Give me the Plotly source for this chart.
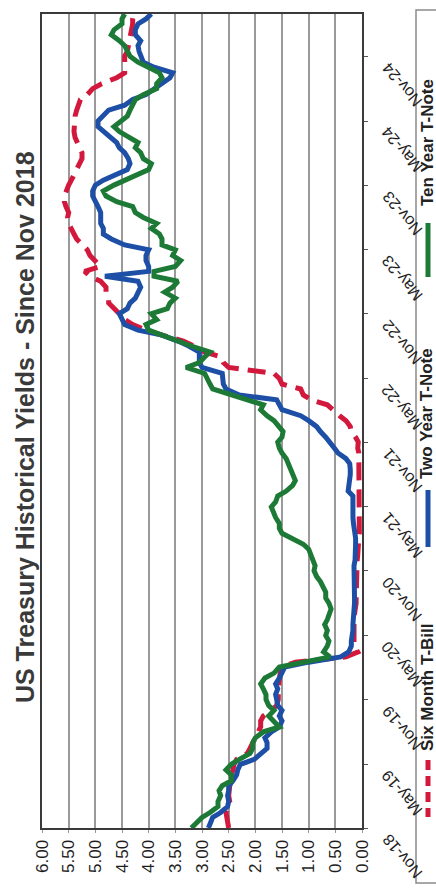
import pandas as pd
import plotly.graph_objects as go

# Observation dates: 1st and 15th of each month, Nov 2018 - Mar 2025
obs_dates = pd.date_range("2018-11-01", "2025-03-01", freq="SMS")

# Yields in percent, one value per observation date (rows = six months)
six_month = [
    2.50, 2.52, 2.55, 2.55, 2.50, 2.48, 2.50, 2.50, 2.48, 2.45, 2.45, 2.42,
    2.40, 2.35, 2.15, 2.10, 2.05, 2.00, 1.95, 1.90, 1.90, 1.85, 1.70, 1.60,
    1.57, 1.58, 1.57, 1.56, 1.55, 1.55, 1.52, 1.25, 0.30, 0.08, 0.15, 0.15,
    0.15, 0.17, 0.17, 0.15, 0.14, 0.12, 0.11, 0.11, 0.11, 0.11, 0.11, 0.10,
    0.10, 0.09, 0.09, 0.08, 0.08, 0.07, 0.06, 0.05, 0.05, 0.04, 0.04, 0.04,
    0.04, 0.05, 0.05, 0.05, 0.05, 0.05, 0.05, 0.05, 0.05, 0.06, 0.06, 0.08,
    0.07, 0.12, 0.20, 0.22, 0.30, 0.42, 0.55, 0.65, 0.95, 1.10, 1.15, 1.50,
    1.55, 1.65, 2.50, 2.60, 2.65, 2.95, 3.15, 3.35, 3.75, 4.05, 4.30, 4.45,
    4.55, 4.65, 4.75, 4.75, 4.80, 4.80, 4.90, 5.10, 5.20, 4.90, 5.00, 5.10,
    5.15, 5.25, 5.35, 5.40, 5.45, 5.50, 5.52, 5.50, 5.55, 5.58, 5.58, 5.55,
    5.50, 5.45, 5.40, 5.35, 5.30, 5.25, 5.25, 5.30, 5.35, 5.38, 5.40, 5.40,
    5.40, 5.38, 5.35, 5.32, 5.28, 5.15, 5.05, 4.88, 4.60, 4.45, 4.45, 4.45,
    4.45, 4.40, 4.38, 4.35, 4.32, 4.30, 4.30, 4.30, 4.28,
]

two_year = [
    2.88, 2.85, 2.80, 2.65, 2.52, 2.50, 2.52, 2.50, 2.50, 2.42, 2.35, 2.33,
    2.28, 2.02, 1.90, 1.78, 1.78, 1.82, 1.70, 1.55, 1.50, 1.55, 1.50, 1.58,
    1.60, 1.62, 1.58, 1.62, 1.55, 1.50, 1.45, 1.00, 0.40, 0.25, 0.20, 0.20,
    0.18, 0.17, 0.17, 0.16, 0.15, 0.15, 0.14, 0.14, 0.14, 0.15, 0.15, 0.16,
    0.15, 0.15, 0.13, 0.12, 0.12, 0.12, 0.12, 0.14, 0.15, 0.16, 0.17, 0.17,
    0.16, 0.16, 0.17, 0.26, 0.24, 0.22, 0.22, 0.22, 0.23, 0.30, 0.45, 0.52,
    0.60, 0.68, 0.78, 0.85, 1.00, 1.15, 1.50, 1.55, 1.60, 2.30, 2.55, 2.60,
    2.60, 2.62, 3.00, 3.05, 3.05, 3.05, 3.25, 3.45, 3.75, 4.20, 4.45, 4.50,
    4.55, 4.40, 4.35, 4.25, 4.20, 4.15, 4.20, 4.82, 4.00, 4.00, 4.05, 4.05,
    4.00, 4.45, 4.70, 4.85, 4.85, 4.90, 4.90, 4.90, 4.95, 5.00, 5.05, 5.05,
    5.00, 4.85, 4.60, 4.40, 4.35, 4.38, 4.45, 4.55, 4.60, 4.72, 4.85, 4.95,
    4.95, 4.85, 4.75, 4.45, 4.30, 4.05, 3.90, 3.75, 3.60, 3.55, 3.90, 4.10,
    4.15, 4.18, 4.20, 4.15, 4.25, 4.25, 4.20, 4.05, 3.95,
]

ten_year = [
    3.20, 3.10, 3.00, 2.85, 2.70, 2.70, 2.65, 2.68, 2.62, 2.45, 2.45, 2.55,
    2.45, 2.30, 2.10, 2.05, 2.05, 2.00, 1.85, 1.55, 1.65, 1.75, 1.65, 1.75,
    1.80, 1.80, 1.85, 1.90, 1.82, 1.65, 1.55, 1.10, 0.60, 0.72, 0.65, 0.62,
    0.68, 0.65, 0.70, 0.65, 0.62, 0.58, 0.62, 0.68, 0.68, 0.72, 0.78, 0.85,
    0.90, 0.88, 0.92, 0.95, 1.00, 1.10, 1.30, 1.50, 1.55, 1.55, 1.62, 1.65,
    1.70, 1.62, 1.58, 1.42, 1.30, 1.25, 1.30, 1.35, 1.40, 1.42, 1.50, 1.55,
    1.58, 1.50, 1.48, 1.55, 1.65, 1.78, 1.90, 1.85, 2.15, 2.50, 2.80, 2.85,
    2.90, 2.95, 3.30, 3.05, 2.95, 2.85, 3.20, 3.45, 3.70, 4.00, 4.05, 3.85,
    3.95, 3.65, 3.60, 3.50, 3.70, 3.55, 3.45, 3.90, 3.90, 3.50, 3.40, 3.55,
    3.50, 3.75, 3.75, 3.80, 3.95, 3.85, 4.10, 4.25, 4.30, 4.60, 4.80, 4.85,
    4.65, 4.45, 4.25, 4.00, 3.95, 4.10, 4.15, 4.25, 4.20, 4.35, 4.55, 4.65,
    4.50, 4.40, 4.35, 4.30, 4.25, 4.10, 3.85, 3.85, 3.75, 3.80, 4.00, 4.20,
    4.35, 4.40, 4.45, 4.55, 4.70, 4.65, 4.50, 4.50, 4.45,
]

series_names = ["Six Month T-Bill", "Two Year T-Note", "Ten Year T-Note"]

yield_ticks = [0.0, 0.5, 1.0, 1.5, 2.0, 2.5, 3.0, 3.5, 4.0, 4.5, 5.0, 5.5, 6.0]
yield_labels = ["0.00", "0.50", "1.00", "1.50", "2.00", "2.50", "3.00",
                "3.50", "4.00", "4.50", "5.00", "5.50", "6.00"]

date_ticks = ["2018-11-01", "2019-05-01", "2019-11-01", "2020-05-01",
              "2020-11-01", "2021-05-01", "2021-11-01", "2022-05-01",
              "2022-11-01", "2023-05-01", "2023-11-01", "2024-05-01",
              "2024-11-01"]
date_labels = ["Nov-18", "May-19", "Nov-19", "May-20", "Nov-20", "May-21",
               "Nov-21", "May-22", "Nov-22", "May-23", "Nov-23", "May-24",
               "Nov-24"]

title_text = "US Treasury Historical Yields - Since Nov 2018"

assert len(six_month) == len(two_year) == len(ten_year) == len(obs_dates)

RED = "#D3183D"
BLUE = "#1E4FA6"
GREEN = "#1D7A36"
FONT = "Liberation Sans, Arial, sans-serif"
LW = 5
RED_DASH = "18px,9px"

fig = go.Figure()
# The chart is laid out turned a quarter turn: yield runs along x, time along y
for vals, name, color, dash in [
    (six_month, series_names[0], RED, RED_DASH),
    (two_year, series_names[1], BLUE, "solid"),
    (ten_year, series_names[2], GREEN, "solid"),
]:
    fig.add_trace(go.Scatter(
        x=vals, y=obs_dates, mode="lines", name=name,
        line=dict(color=color, width=LW, dash=dash),
    ))

fig.update_layout(
    width=436, height=890,
    margin=dict(l=42, r=74, t=14, b=62),
    paper_bgcolor="white", plot_bgcolor="white",
    showlegend=False,
    font=dict(family=FONT, color="#222222"),
)

fig.update_xaxes(
    range=[6, 0], tickvals=yield_ticks, ticktext=yield_labels,
    tickangle=-90, tickfont=dict(size=17, color="#1e1e1e"),
    showgrid=True, gridcolor="#9a9a9a", gridwidth=1.5,
    showline=True, linecolor="#3a3a3a", linewidth=2, mirror=True,
    ticks="outside", ticklen=3, tickcolor="#9a9a9a", zeroline=False,
)
fig.update_yaxes(
    type="date", range=["2018-11-01", "2025-03-01"],
    tickvals=date_ticks, showticklabels=False, side="right",
    ticks="outside", ticklen=4, tickcolor="#555555", showgrid=False,
    showline=True, linecolor="#3a3a3a", linewidth=2, mirror=True,
    zeroline=False,
)

# Slanted date labels beside the time axis
for d, lab in zip(date_ticks, date_labels):
    fig.add_annotation(
        xref="paper", yref="y", x=1, y=d, xshift=14,
        text=lab, textangle=-130, xanchor="left", yanchor="top",
        showarrow=False, font=dict(size=16, color="#1e1e1e", family=FONT),
    )

# Title running up the left side
fig.add_annotation(
    xref="paper", yref="paper", x=-0.053, y=0.4926,
    text=title_text, textangle=-90, showarrow=False,
    xanchor="center", yanchor="middle",
    font=dict(size=25, color="#3a3a3a", family=FONT, weight="bold"),
)

# Legend panel along the right edge
def py(pix):
    return (828 - pix) / 814

def px(pix):
    return (pix - 42) / 320

fig.add_shape(type="rect", xref="paper", yref="paper",
              x0=px(416), x1=px(450), y0=py(883), y1=py(10),
              line=dict(color="#8a8a8a", width=1.5), fillcolor="rgba(0,0,0,0)")

legend_items = [
    (series_names[2], GREEN, "solid", 223, 277, 143),
    (series_names[1], BLUE, "solid", 490, 547, 414),
    (series_names[0], RED, "10px,6px", 760, 817, 687),
]
for name, color, dash, s0, s1, tc in legend_items:
    fig.add_shape(type="line", xref="paper", yref="paper",
                  x0=px(428), x1=px(428), y0=py(s0), y1=py(s1),
                  line=dict(color=color, width=5, dash=dash))
    fig.add_annotation(
        xref="paper", yref="paper", x=px(427), y=py(tc),
        text=name, textangle=-90, showarrow=False,
        xanchor="center", yanchor="middle",
        font=dict(size=17, color="#222222", family=FONT, weight="bold"),
    )

fig.write_html("out.html")
